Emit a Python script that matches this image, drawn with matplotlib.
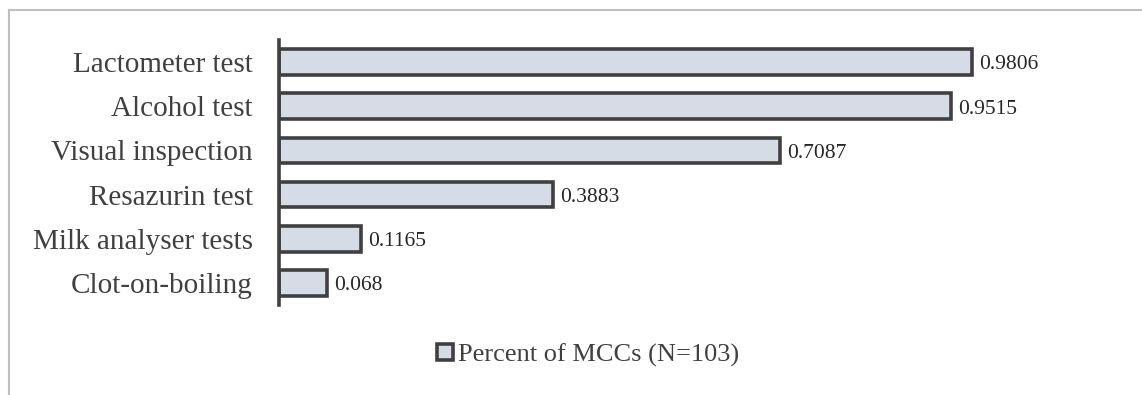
import matplotlib.pyplot as plt
from matplotlib.lines import Line2D
from matplotlib.patches import Patch

plt.rcParams['font.family'] = ['Liberation Serif', 'DejaVu Serif']

tests = ["Lactometer test", "Alcohol test", "Visual inspection",
         "Resazurin test", "Milk analyser tests", "Clot-on-boiling"]
percent = [0.9806, 0.9515, 0.7087, 0.3883, 0.1165, 0.068]

fill = "#D6DCE5"
edge = "#404040"
txt = "#404040"

fig = plt.figure(figsize=(11.42, 3.95), dpi=100)
ax = fig.add_axes([0.2443, 0.2278, 0.7426, 0.671])

y = list(range(len(tests)))
ax.barh(y, percent, height=0.58, color=fill, edgecolor=edge, linewidth=2.6)
ax.set_ylim(len(tests) - 0.5, -0.5)
ax.set_xlim(0, 1.2)

# value labels just past the end of each bar
for yi, v in zip(y, percent):
    ax.annotate(f"{v:g}", (v, yi), xytext=(5, -2), textcoords="offset points",
                va="center", ha="left", fontsize=15.5, color="#262626")

ax.set_yticks(y)
ax.set_yticklabels(tests, fontsize=21, color=txt)
ax.tick_params(axis="y", length=0, pad=19)
ax.set_xticks([])
for s in ["top", "right", "bottom"]:
    ax.spines[s].set_visible(False)
ax.spines["left"].set_color(edge)
ax.spines["left"].set_linewidth(2.6)

# outer chart frame
fig.add_artist(Line2D([8.5 / 1142, 1], [1 - 10 / 395] * 2, color="#BFBFBF",
                      linewidth=1.5, transform=fig.transFigure))
fig.add_artist(Line2D([8.5 / 1142] * 2, [0, 1 - 10 / 395], color="#BFBFBF",
                      linewidth=1.5, transform=fig.transFigure))

handle = Patch(facecolor=fill, edgecolor=edge, linewidth=2.6)
fig.legend([handle], ["Percent of MCCs (N=103)"], loc="center",
           bbox_to_anchor=(588 / 1142, 1 - 355 / 395), frameon=False,
           fontsize=19, labelcolor=txt, handlelength=0.6, handleheight=0.6,
           handletextpad=0.2)

fig.savefig("out.png", dpi=100)
